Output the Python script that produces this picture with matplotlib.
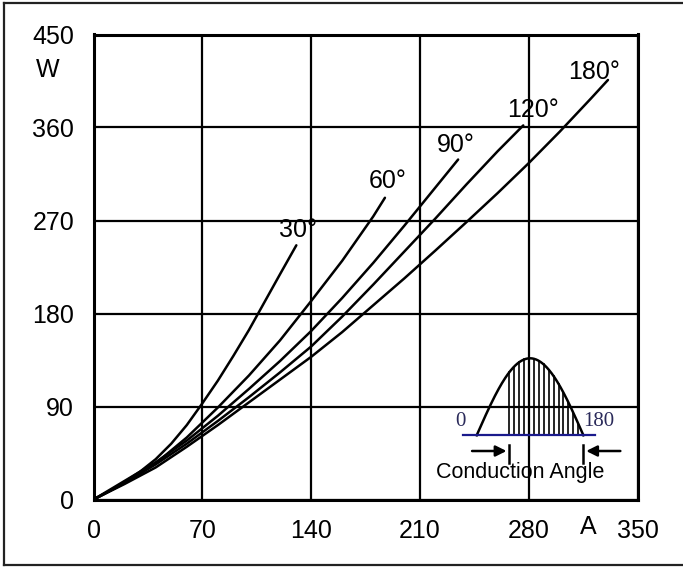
import numpy as np
import matplotlib.pyplot as plt
from matplotlib.lines import Line2D

plt.rcParams['font.family'] = ['Liberation Sans', 'DejaVu Sans']

# average current (A) vs power loss (W) for each conduction angle
x_30 = [0, 10, 20, 30, 40, 50, 60, 70, 80, 90, 100, 110, 120, 130.5]
y_30 = [0, 8, 17, 27, 39, 54, 72, 93, 115, 139, 164, 191, 218, 246]

x_60 = [0, 20, 40, 60, 80, 100, 120, 140, 160, 180, 187.5]
y_60 = [0, 16, 35, 60, 89, 120, 154, 192, 231, 274, 292]

x_90 = [0, 20, 40, 60, 80, 100, 120, 140, 160, 180, 200, 220, 234.6]
y_90 = [0, 18, 36, 57, 81, 107, 134, 163, 195, 229, 265, 302, 329]

x_120 = [0, 20, 40, 60, 80, 100, 120, 140, 160, 180, 200, 220, 240, 260, 276.5]
y_120 = [0, 16, 34, 54, 76, 99, 123, 148, 177, 208, 240, 272, 305, 337, 362]

x_180 = [0, 20, 40, 60, 80, 100, 120, 140, 160, 180, 200, 220, 240, 260, 280, 300, 320, 331]
y_180 = [0, 15, 31, 51, 72, 94, 116, 138, 162, 188, 214, 241, 268.5, 296.5, 325.5, 356, 388, 406]

curve_labels = ["30°", "60°", "90°", "120°", "180°"]
label_pos = [(119.3, 254.5), (177.3, 301.5), (221, 336.3), (266.1, 370.2), (305.3, 407)]

x_ticks = [0, 70, 140, 210, 280, 350]
y_ticks = [0, 90, 180, 270, 360, 450]

W, H = 683, 567
fig = plt.figure(figsize=(W / 100, H / 100), dpi=100)

ax = fig.add_axes([93.5 / W, (H - 499.5) / H, 544 / W, 465 / H])
ax.set_xlim(0, 350)
ax.set_ylim(0, 450)
ax.set_xticks(x_ticks)
ax.set_yticks(y_ticks)
ax.tick_params(length=0, labelsize=18, pad=14)
ax.grid(True, color="black", linewidth=1.6)
for s in ax.spines.values():
    s.set_linewidth(2.2)

for xs, ys in [(x_30, y_30), (x_60, y_60), (x_90, y_90), (x_120, y_120), (x_180, y_180)]:
    ax.plot(xs, ys, color="black", linewidth=1.8, solid_capstyle="round", solid_joinstyle="round")

for lab, (lx, ly) in zip(curve_labels, label_pos):
    ax.text(lx, ly, lab, fontsize=18, ha="left", va="baseline")

ax.text(-0.0846, 0.9247, "W", transform=ax.transAxes, fontsize=18, ha="center", va="center")
ax.text(0.909, -0.059, "A", transform=ax.transAxes, fontsize=18, ha="center", va="center")

# conduction angle sketch
ins = fig.add_axes([476.7 / W, (H - 435.3) / H, 106.7 / W, 77 / H])
ins.set_xlim(0, 180)
ins.set_ylim(0, 1)
ins.axis("off")
deg = np.linspace(0, 180, 200)
ins.plot(deg, np.sin(np.radians(deg)), color="black", linewidth=1.8, clip_on=False)
for a in np.arange(55, 176, 8.3):
    ins.plot([a, a], [0, np.sin(np.radians(a))], color="black", linewidth=1.2, clip_on=False)
ins.plot([-22.6, 199.6], [0, 0], color="#1a1a8c", linewidth=1.6, clip_on=False)
ins.text(-28, 0.18, "0", family="Liberation Serif", fontsize=15, color="#2a2a5a",
         ha="center", va="center")
ins.text(206, 0.18, "180", family="Liberation Serif", fontsize=15, color="#2a2a5a",
         ha="center", va="center")
ins.annotate("", xy=(55, -0.204), xytext=(-12.5, -0.204),
             arrowprops=dict(arrowstyle="-|>", color="black", lw=1.8, mutation_scale=16),
             annotation_clip=False)
ins.annotate("", xy=(180, -0.204), xytext=(247, -0.204),
             arrowprops=dict(arrowstyle="-|>", color="black", lw=1.8, mutation_scale=16),
             annotation_clip=False)
ins.plot([55, 55], [-0.126, -0.356], color="black", linewidth=1.8, clip_on=False)
ins.plot([180, 180], [-0.126, -0.356], color="black", linewidth=1.8, clip_on=False)
ins.text(73, -0.48, "Conduction Angle", fontsize=15.5, ha="center", va="center")

# outer frame
fig.add_artist(Line2D([4 / W, 4 / W], [1 - 2.7 / H, 1 - 565 / H], color="#222222", lw=1.6))
fig.add_artist(Line2D([4 / W, 1], [1 - 2.7 / H, 1 - 2.7 / H], color="#222222", lw=1.6))
fig.add_artist(Line2D([4 / W, 1], [1 - 565 / H, 1 - 565 / H], color="#222222", lw=1.6))

fig.savefig("out.png", dpi=100)
